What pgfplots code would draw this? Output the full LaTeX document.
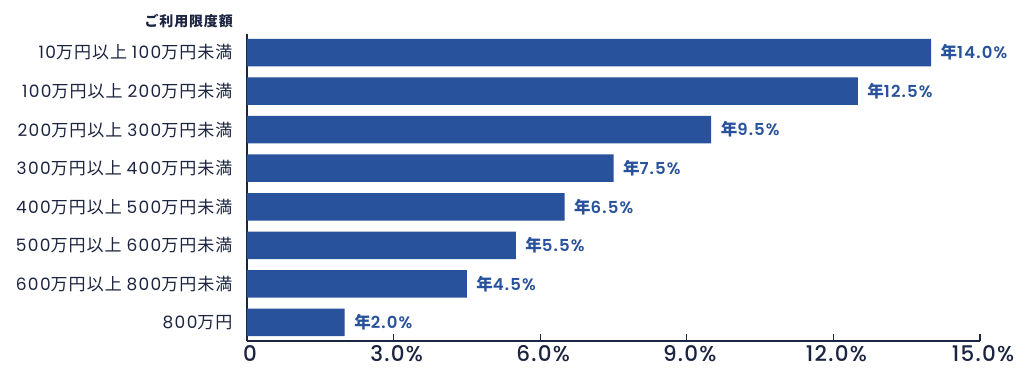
\documentclass[border=0pt]{standalone}
\usepackage{pgfplots}
\pgfplotsset{compat=1.18}
\usepackage{pgfplotstable}
\usepackage{fontspec}
\setmainfont{Noto Sans CJK JP}[LetterSpace=6]
\newfontfamily\pop{Poppins}[LetterSpace=8]
\newfontfamily\popm{Poppins Medium}[LetterSpace=6]
\newfontfamily\pops{Poppins SemiBold}[LetterSpace=7]
\definecolor{barblue}{HTML}{28529B}
\definecolor{navy}{HTML}{1B2440}
\newcommand\n[1]{{\pop #1}}
\pgfplotstableread[col sep=comma]{
y,x,lab
0,14.0,14.0
1,12.5,12.5
2,9.5,9.5
3,7.5,7.5
4,6.5,6.5
5,5.5,5.5
6,4.5,4.5
7,2.0,2.0
}\rates
\begin{document}
\begin{tikzpicture}[x=1pt,y=1pt]
\begin{axis}[
  at={(247pt,39pt)}, anchor=south west,
  scale only axis, width=733pt, height=307pt,
  xbar, bar width=27.5pt, bar shift=0pt,
  xmin=0, xmax=15,
  ymin=-0.48, ymax=7.48, y dir=reverse,
  axis x line*=bottom, axis y line*=left,
  axis line style={navy, line width=1.3pt, -},
  xtick={0,3,6,9,12,15},
  xticklabels={0,3.0\%,6.0\%,9.0\%,12.0\%,15.0\%},
  xtick align=inside,
  major tick length=7pt,
  xtick style={navy, line width=1.1pt},
  xticklabel style={font=\popm\fontsize{21.5}{21.5}\selectfont, text=navy, yshift=-1pt, xshift=3pt},
  ytick={0,...,7},
  yticklabels={\n{10}万円以上 \n{100}万円未満,\n{100}万円以上 \n{200}万円未満,\n{200}万円以上 \n{300}万円未満,\n{300}万円以上 \n{400}万円未満,\n{400}万円以上 \n{500}万円未満,\n{500}万円以上 \n{600}万円未満,\n{600}万円以上 \n{800}万円未満,\n{800}万円},
  ytick style={draw=none},
  yticklabel style={font=\fontsize{17}{17}\selectfont, text=navy, xshift=-4pt},
  point meta=explicit symbolic,
  nodes near coords={{\bfseries 年}{\pops\pgfplotspointmeta\%}},
  nodes near coords style={font=\fontsize{16.5}{16.5}\selectfont, text=barblue, anchor=west, xshift=6pt},
  clip=false,
]
\addplot[fill=barblue, draw=none] table[x=x, y=y, meta=lab, col sep=comma] {\rates};
\end{axis}
\node[anchor=east, text=navy, font=\bfseries\fontsize{14}{14}\selectfont, inner sep=0pt] at (233pt,359pt) {ご利用限度額};
\pgfresetboundingbox
\path (0,0) rectangle (1025pt,380pt);
\end{tikzpicture}
\end{document}
